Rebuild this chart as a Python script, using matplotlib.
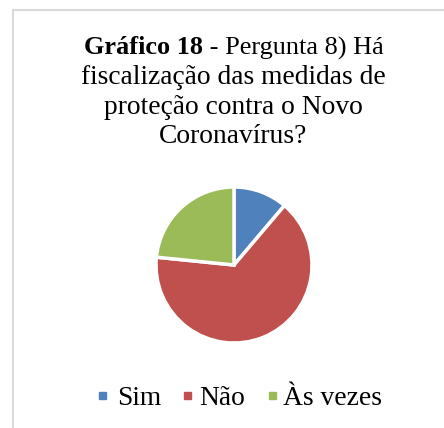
import matplotlib.pyplot as plt
from matplotlib.patches import Rectangle

labels = ['Sim', 'Não', 'Às vezes']
values = [11.2, 65.4, 23.4]
colors = ['#4F81BD', '#C0504D', '#9BBB59']

plt.rcParams['font.family'] = ['Liberation Serif', 'DejaVu Serif']

W, H = 444, 428
FS = 19.8
fig = plt.figure(figsize=(W / 100, H / 100), dpi=100)

# light grey chart border (cut at right/bottom like the reference)
fig.patches.append(Rectangle((13 / W, -0.1), 1, 1.1 - 10 / H, transform=fig.transFigure,
                             fill=False, edgecolor='#D9D9D9', linewidth=1.5))

# title, first line mixes bold and regular text
tb = fig.text(0, 1 - 48 / H, 'Gráfico 18', fontsize=FS - 0.9, fontweight='bold', va='center')
tr = fig.text(0, 1 - 48 / H, ' - Pergunta 8) Há', fontsize=FS - 0.9, va='center')
fig.canvas.draw()
r = fig.canvas.get_renderer()
wb = tb.get_window_extent(r).width
wr = tr.get_window_extent(r).width
x0 = (234 - (wb + wr) / 2) / W
tb.set_x(x0)
tr.set_x(x0 + wb / W)
title_lines = ['fiscalização das medidas de', 'proteção contra o Novo', 'Coronavírus?']
for i, line in enumerate(title_lines):
    fig.text(233 / W, 1 - (77.5 + 29.5 * i) / H, line, fontsize=FS, ha='center', va='center')

# pie
cx, cy, rad = 234, 265, 78
ax = fig.add_axes([(cx - rad) / W, 1 - (cy + rad) / H, 2 * rad / W, 2 * rad / H])
wedges, _ = ax.pie(values, colors=colors, startangle=90, counterclock=False,
                   wedgeprops=dict(edgecolor='white', linewidth=2.5))
for w in wedges:
    w.set_clip_on(False)
ax.set_xlim(-1, 1)
ax.set_ylim(-1, 1)
ax.axis('off')

# legend
leg_sq = [102, 187, 272]
leg_tx = [117, 199, 283]
for lab, col, sx, tx in zip(labels, colors, leg_sq, leg_tx):
    fig.patches.append(Rectangle(((sx - 3.5) / W, 1 - (395 + 3.5) / H), 7 / W, 7 / H,
                                 transform=fig.transFigure, color=col))
    fig.text(tx / W, 1 - 405 / H, lab, fontsize=FS, ha='left', va='baseline')

fig.savefig('out.png', dpi=100)
